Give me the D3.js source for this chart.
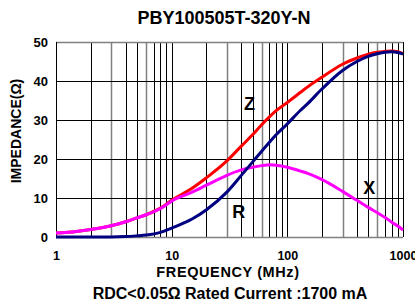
<!DOCTYPE html>
<html>
<head>
<meta charset="utf-8">
<script src="https://cdn.jsdelivr.net/npm/d3@7"></script>
<style>
  body { margin: 0; background: #fff; }
  text { font-family: "Liberation Sans", Arial, sans-serif; font-weight: bold; fill: #000; }
</style>
</head>
<body>
<svg id="chart" width="415" height="305"></svg>
<script>
// chart data
const freq = [1, 1.5, 2, 3, 4, 5, 6, 8, 10, 15, 20, 30, 40, 50, 60, 70, 80, 100, 130, 150, 200, 300, 400, 500, 600, 700, 800, 900, 1000];
const zVals = [1.0, 1.4, 1.9, 2.9, 3.9, 4.9, 5.7, 7.4, 9.4, 12.5, 15.2, 19.5, 23.3, 26.2, 28.8, 30.8, 32.4, 34.5, 37.1, 38.5, 41.0, 44.3, 45.9, 46.9, 47.4, 47.6, 47.7, 47.5, 47.0];
const rVals = [0, 0, 0, 0, 0.1, 0.3, 0.5, 1.2, 2.3, 4.6, 7.0, 11.5, 15.8, 19.2, 22.0, 24.3, 26.2, 29.0, 32.5, 34.2, 38.0, 42.7, 45.0, 46.3, 47.0, 47.4, 47.5, 47.3, 46.9];
const xVals = [1.0, 1.4, 1.9, 2.9, 3.9, 4.9, 5.7, 7.3, 9.2, 11.5, 13.3, 15.8, 17.2, 17.9, 18.3, 18.5, 18.4, 17.9, 16.9, 16.3, 14.7, 11.7, 9.4, 7.6, 6.2, 5.0, 3.8, 2.8, 1.8];

const xTicks = [1, 10, 100, 1000];
const yTicks = [0, 10, 20, 30, 40, 50];
const minorGrid = [2, 3, 4, 5, 6, 7, 8, 9, 20, 30, 40, 50, 60, 70, 80, 90, 200, 300, 400, 500, 600, 700, 800, 900];
const grayGrid = [3, 6, 30, 60, 300, 600];

const series = [
  {name: "Z", vals: zVals, color: "#ff0000"},
  {name: "X", vals: xVals, color: "#ff00ff"},
  {name: "R", vals: rVals, color: "#000080"}
];

const svg = d3.select("#chart");
const pLeft = 56, pRight = 403, pTop = 42, pBottom = 237;

const xScale = d3.scaleLog().domain([1, 1000]).range([pLeft, pRight]);
const yScale = d3.scaleLinear().domain([0, 50]).range([pBottom, pTop]);

// grid
const grid = svg.append("g");
grid.selectAll(".vg").data(minorGrid.concat([10, 100])).enter()
  .append("line")
  .attr("x1", d => Math.round(xScale(d)) + 0.5)
  .attr("x2", d => Math.round(xScale(d)) + 0.5)
  .attr("y1", pTop).attr("y2", pBottom)
  .attr("stroke", d => grayGrid.includes(d) ? "#808080" : "#000")
  .attr("stroke-width", d => grayGrid.includes(d) ? 1.5 : 1);

grid.selectAll(".hg").data([10, 20, 30, 40]).enter()
  .append("line")
  .attr("x1", pLeft).attr("x2", pRight)
  .attr("y1", d => Math.round(yScale(d)) + 0.5)
  .attr("y2", d => Math.round(yScale(d)) + 0.5)
  .attr("stroke", "#000");

// frame
svg.append("line").attr("x1", pLeft).attr("x2", pRight).attr("y1", pTop + 0.5).attr("y2", pTop + 0.5)
  .attr("stroke", "#808080").attr("stroke-width", 1.5);
svg.append("line").attr("x1", pLeft).attr("x2", pRight).attr("y1", pBottom + 0.5).attr("y2", pBottom + 0.5)
  .attr("stroke", "#808080").attr("stroke-width", 1.5);
svg.append("line").attr("x1", pLeft + 0.5).attr("x2", pLeft + 0.5).attr("y1", pTop).attr("y2", pBottom)
  .attr("stroke", "#000");
svg.append("line").attr("x1", pRight + 0.5).attr("x2", pRight + 0.5).attr("y1", pTop).attr("y2", pBottom)
  .attr("stroke", "#000");

// curves
const line = d3.line()
  .x(d => xScale(d[0]))
  .y(d => yScale(d[1]))
  .curve(d3.curveMonotoneX);

svg.selectAll(".curve").data(series).enter()
  .append("path")
  .attr("d", s => line(freq.map((f, i) => [f, s.vals[i]])))
  .attr("fill", "none")
  .attr("stroke", s => s.color)
  .attr("stroke-width", 3);

// axes labels
const yAxis = d3.axisLeft(yScale).tickValues(yTicks).tickSize(0).tickPadding(8);
const yg = svg.append("g").attr("transform", "translate(" + pLeft + ",0)").call(yAxis);
yg.select(".domain").remove();
yg.selectAll("text").style("font-size", "13px").style("font-family", "Liberation Sans, Arial, sans-serif").style("font-weight", "bold");

const xAxis = d3.axisBottom(xScale).tickValues(xTicks).tickFormat(d3.format("d")).tickSize(0).tickPadding(14);
const xg = svg.append("g").attr("transform", "translate(0," + pBottom + ")").call(xAxis);
xg.select(".domain").remove();
xg.selectAll("text").style("font-size", "12.5px").style("font-family", "Liberation Sans, Arial, sans-serif").style("font-weight", "bold");

// titles
svg.append("text").attr("x", 224).attr("y", 24).attr("text-anchor", "middle")
  .style("font-size", "18px").text("PBY100505T-320Y-N");

svg.append("text").attr("transform", "translate(20.5,131) rotate(-90)").attr("text-anchor", "middle")
  .style("font-size", "14px").text("IMPEDANCE(Ω)");

svg.append("text").attr("x", 228).attr("y", 277).attr("text-anchor", "middle")
  .style("font-size", "14.5px").style("letter-spacing", "0.6px").text("FREQUENCY (MHz)");

svg.append("text").attr("x", 230).attr("y", 299).attr("text-anchor", "middle")
  .style("font-size", "16px").text("RDC<0.05Ω Rated Current :1700 mA");

// curve labels
const curveLabels = [
  {t: "Z", f: 47, v: 32.6},
  {t: "R", f: 38, v: 4.9},
  {t: "X", f: 512, v: 11}
];
svg.selectAll(".clab").data(curveLabels).enter()
  .append("text")
  .attr("x", d => xScale(d.f))
  .attr("y", d => yScale(d.v))
  .attr("text-anchor", "middle")
  .style("font-size", "18px")
  .text(d => d.t);
</script>
</body>
</html>
